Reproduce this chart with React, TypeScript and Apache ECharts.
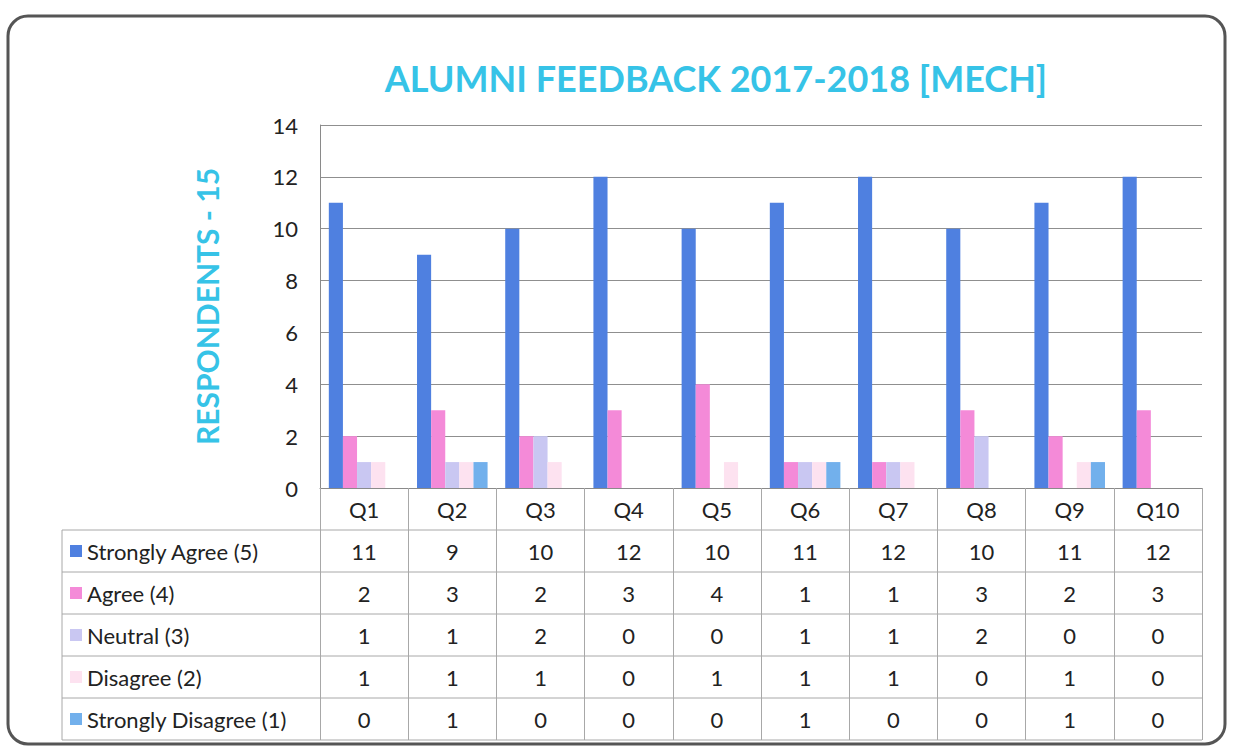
import React, { useEffect, useRef } from "react";
import * as echarts from "echarts";

const categories = ["Q1", "Q2", "Q3", "Q4", "Q5", "Q6", "Q7", "Q8", "Q9", "Q10"];
const seriesNames = [
  "Strongly Agree (5)",
  "Agree (4)",
  "Neutral (3)",
  "Disagree (2)",
  "Strongly Disagree (1)",
];
const stronglyAgree = [11, 9, 10, 12, 10, 11, 12, 10, 11, 12];
const agree = [2, 3, 2, 3, 4, 1, 1, 3, 2, 3];
const neutral = [1, 1, 2, 0, 0, 1, 1, 2, 0, 0];
const disagree = [1, 1, 1, 0, 1, 1, 1, 0, 1, 0];
const stronglyDisagree = [0, 1, 0, 0, 0, 1, 0, 0, 1, 0];
const seriesValues = [stronglyAgree, agree, neutral, disagree, stronglyDisagree];
const seriesColors = ["#4f80e0", "#f48ad8", "#c9c7f2", "#fde2f0", "#72b0ec"];
const yMin = 0;
const yMax = 14;
const yInterval = 2;

const FONT = "Lato, 'Open Sans', sans-serif";

export default function App() {
  const ref = useRef<HTMLDivElement>(null);
  useEffect(() => {
    if (!ref.current) return;
    const chart = echarts.init(ref.current, undefined, { renderer: "svg" });
    const W = 1233;
    const gridLeft = 320;
    const gridRight = 1202;
    const gridTop = 125;
    const gridBottom = 488;
    const rowH = 42;
    const tableLeft = 62;
    const tableBottom = gridBottom + rowH * 6;
    const fs = 22;

    const xAxes: any[] = [
      {
        type: "category",
        data: categories,
        gridIndex: 0,
        position: "bottom",
        axisLine: { show: true, lineStyle: { color: "#8a8a8a", width: 1 } },
        axisTick: {
          show: true,
          interval: 0,
          length: rowH * 6,
          lineStyle: { color: "#a8a8a8", width: 1 },
        },
        axisLabel: {
          interval: 0,
          margin: 10,
          fontSize: fs,
          color: "#222",
          fontFamily: FONT,
        },
      },
    ];
    seriesValues.forEach((vals, i) => {
      xAxes.push({
        type: "category",
        data: categories,
        gridIndex: 0,
        position: "bottom",
        offset: rowH * (i + 1),
        axisLine: { show: false },
        axisTick: { show: false },
        axisLabel: {
          interval: 0,
          margin: 10,
          fontSize: fs,
          color: "#222",
          fontFamily: FONT,
          formatter: (_v: string, idx: number) => String(vals[idx]),
        },
      });
    });

    const lines: any[] = [];
    for (let r = 1; r <= 6; r++) {
      const y = gridBottom + rowH * r;
      lines.push({
        type: "line",
        shape: { x1: tableLeft, y1: y, x2: gridRight, y2: y },
        style: { stroke: "#a8a8a8", lineWidth: 1 },
      });
    }
    lines.push({
      type: "line",
      shape: { x1: tableLeft, y1: gridBottom + rowH, x2: tableLeft, y2: tableBottom },
      style: { stroke: "#a8a8a8", lineWidth: 1 },
    });

    chart.setOption({
      animation: false,
      backgroundColor: "#ffffff",
      title: {
        text: "ALUMNI FEEDBACK 2017-2018 [MECH]",
        left: 711,
        top: 55,
        textAlign: "center",
        textStyle: {
          color: "#36c3e7",
          fontSize: 36,
          fontWeight: "bold",
          fontFamily: FONT,
        },
      },
      legend: {
        orient: "vertical",
        left: 70,
        top: gridBottom + rowH + 10,
        padding: 0,
        itemGap: rowH - fs,
        itemWidth: 12,
        itemHeight: 12,
        icon: "rect",
        selectedMode: false,
        textStyle: {
          fontSize: fs,
          lineHeight: fs,
          color: "#222",
          fontFamily: FONT,
        },
        data: seriesNames,
      },
      grid: {
        left: gridLeft,
        top: gridTop,
        width: gridRight - gridLeft,
        height: gridBottom - gridTop,
        containLabel: false,
      },
      xAxis: xAxes,
      yAxis: {
        type: "value",
        min: yMin,
        max: yMax,
        interval: yInterval,
        name: "RESPONDENTS - 15",
        nameLocation: "middle",
        nameGap: 98,
        nameRotate: 90,
        nameTextStyle: {
          color: "#36c3e7",
          fontSize: 30,
          fontWeight: "bold",
          fontFamily: FONT,
        },
        axisLine: { show: true, lineStyle: { color: "#8a8a8a" } },
        axisTick: { show: false },
        axisLabel: {
          fontSize: fs,
          color: "#222",
          margin: 22,
          fontFamily: FONT,
        },
        splitLine: { show: true, lineStyle: { color: "#8f8f8f", width: 1 } },
      },
      series: seriesNames.map((name, i) => ({
        name,
        type: "bar",
        xAxisIndex: 0,
        data: seriesValues[i],
        barGap: "0%",
        barCategoryGap: "20%",
        itemStyle: { color: seriesColors[i] },
      })),
      graphic: [
        {
          type: "rect",
          shape: { x: 8, y: 16, width: W - 16, height: 728, r: 20 },
          style: { fill: "none", stroke: "#555", lineWidth: 3 },
          z: 100,
        },
        ...lines,
      ],
    });
    return () => chart.dispose();
  }, []);
  return (
    <div
      ref={ref}
      style={{ position: "fixed", left: 0, top: 0, width: 1233, height: 751 }}
    />
  );
}
